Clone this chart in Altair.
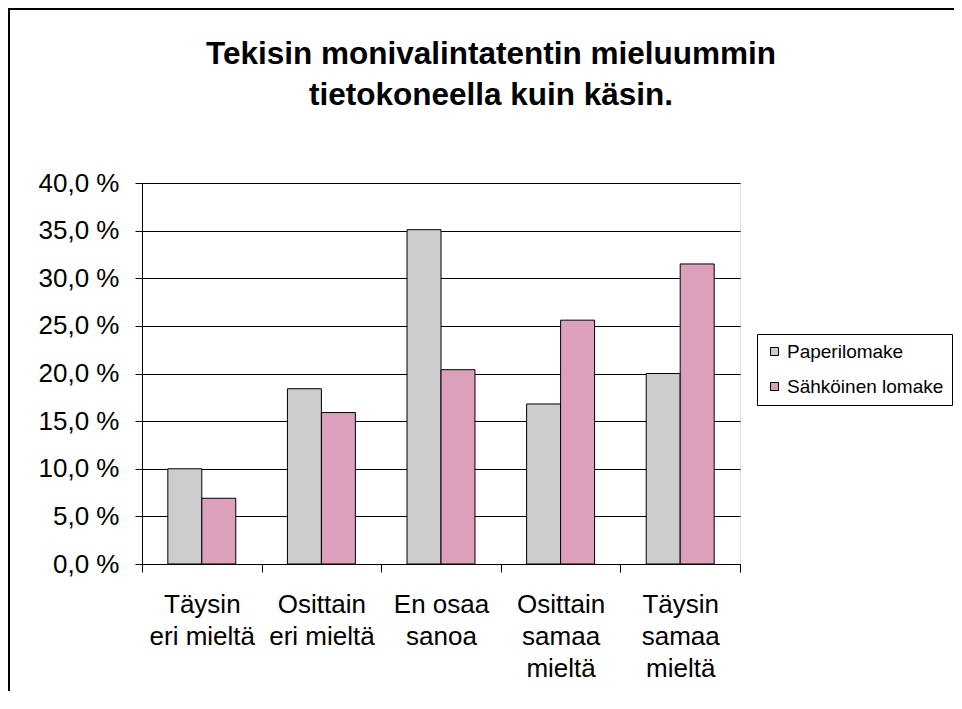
import altair as alt
import pandas as pd

categories = ["Täysin\neri mieltä", "Osittain\neri mieltä", "En osaa\nsanoa",
              "Osittain\nsamaa\nmieltä", "Täysin\nsamaa\nmieltä"]
series = ["Paperilomake", "Sähköinen lomake"]
paperi = [10.0, 18.4, 35.1, 16.8, 20.0]
sahko = [6.9, 15.9, 20.4, 25.6, 31.5]
colors = ["#cccccc", "#dca0bd"]
y_ticks = [0, 5, 10, 15, 20, 25, 30, 35, 40]
title_lines = ["Tekisin monivalintatentin mieluummin", "tietokoneella kuin käsin."]

rows = []
for c, p, s in zip(categories, paperi, sahko):
    rows.append({"category": c, "series": series[0], "value": p})
    rows.append({"category": c, "series": series[1], "value": s})
df = pd.DataFrame(rows)

FONT = "Liberation Sans"

bars = alt.Chart(df).mark_bar(stroke="black", strokeWidth=1).encode(
    x=alt.X("category:N", sort=categories,
            scale=alt.Scale(paddingInner=0, paddingOuter=0),
            axis=alt.Axis(title=None, labelAngle=0, labelExpr="split(datum.label, '\\n')",
                          labelFont=FONT, labelFontSize=26, labelColor="black",
                          labelLineHeight=32, labelPadding=19, labelOverlap=False,
                          labelLimit=0,
                          tickBand="extent", tickSize=8, tickColor="black",
                          domainColor="black", grid=False)),
    xOffset=alt.XOffset("series:N", sort=series,
                        scale=alt.Scale(paddingInner=0, paddingOuter=0.76)),
    y=alt.Y("value:Q", scale=alt.Scale(domain=[0, 40], nice=False),
            axis=alt.Axis(title=None, values=y_ticks,
                          labelExpr="replace(format(datum.value, '.1f'), '.', ',') + ' %'",
                          labelFont=FONT, labelFontSize=26, labelColor="black",
                          labelPadding=16, tickSize=7, tickColor="black",
                          domainColor="black", grid=True, gridColor="black",
                          gridWidth=1, gridOpacity=1)),
    color=alt.Color("series:N", sort=series,
                    scale=alt.Scale(domain=series, range=colors),
                    legend=alt.Legend(title=None, orient="none", legendX=615, legendY=151,
                                      strokeColor="black", fillColor="white", padding=8,
                                      symbolType="square", symbolSize=64,
                                      symbolStrokeColor="black", symbolStrokeWidth=1,
                                      labelFont=FONT, labelFontSize=19, labelColor="black",
                                      labelOffset=3, rowPadding=15, labelLimit=0)),
)

frame = alt.Chart(alt.Data(values=[{}])).mark_rect(
    filled=False, stroke="black", strokeWidth=2
).encode(
    x=alt.value(-133), x2=alt.value(850), y=alt.value(-174), y2=alt.value(560)
)

title = alt.Chart(alt.Data(values=[{}])).mark_text(
    font=FONT, fontSize=31.5, fontWeight="bold", color="black",
    align="center", baseline="alphabetic", lineHeight=41
).encode(
    x=alt.value(349), y=alt.value(-119), text=alt.value(title_lines)
)

chart = alt.layer(frame, bars, title).properties(
    width=598, height=381,
    autosize=alt.AutoSizeParams(type="none"),
    padding={"left": 134, "top": 175, "right": 214, "bottom": 127},
).configure_view(stroke="#808080", strokeWidth=1).configure(background="white")

chart.save("out.html", embed_options={"renderer": "svg", "actions": False})
